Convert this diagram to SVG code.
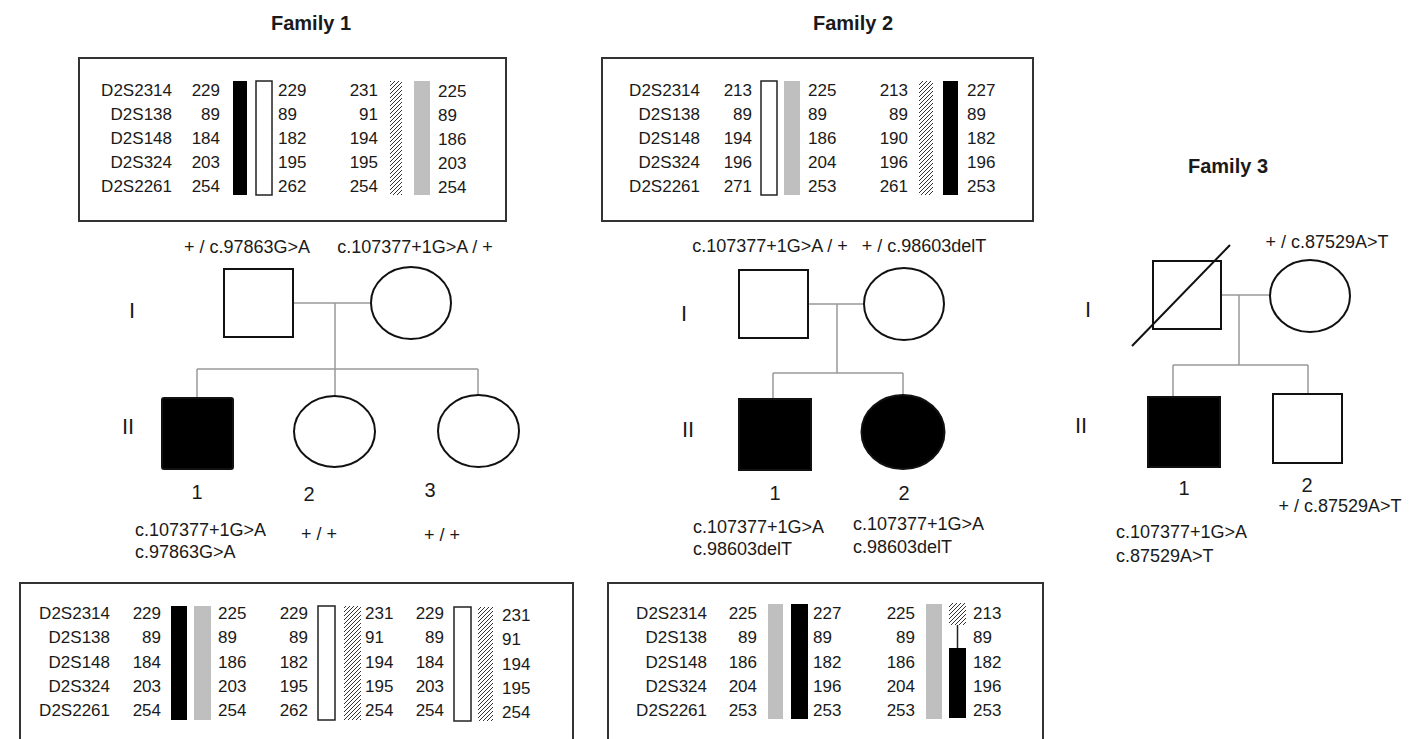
<svg xmlns="http://www.w3.org/2000/svg" width="1416" height="739" viewBox="0 0 1416 739">
<defs>
<pattern id="hatch" patternUnits="userSpaceOnUse" width="4" height="4">
<rect width="4" height="4" fill="#fff"/>
<path d="M-1,1 l2,-2 M0,4 l4,-4 M3,5 l2,-2" stroke="#333" stroke-width="1"/>
</pattern>
<style>
text{font-family:"Liberation Sans",Arial,sans-serif;fill:#1a1a1a}
.h{font-size:20px;font-weight:bold;text-anchor:middle}
.t{font-size:17px}
.r{text-anchor:end}
.m{text-anchor:middle}
.p{font-size:18px}
.g{font-size:22px;text-anchor:middle}
.n{font-size:20px;text-anchor:middle}
.box{fill:none;stroke:#333;stroke-width:2}
.bk{fill:#000}
.wh{fill:#fff;stroke:#222;stroke-width:1.5}
.gy{fill:#bfbfbf}
.ht{fill:url(#hatch)}
.ind{fill:#fff;stroke:#111;stroke-width:2}
.aff{fill:#000;stroke:#111;stroke-width:2}
.con{fill:none;stroke:#999;stroke-width:1.5}
</style>
</defs>
<rect width="1416" height="739" fill="#fff"/>

<g id="titles">
<text class="h" x="311" y="30">Family 1</text>
<text class="h" x="853" y="30">Family 2</text>
<text class="h" x="1228" y="173">Family 3</text>
</g>

<!-- Family 1 top haplotype box -->
<g id="f1-parents-haplotypes">
<rect class="box" x="79" y="58" width="427" height="163"/>
<g class="t r">
<text x="172" y="96">D2S2314</text><text x="172" y="120">D2S138</text><text x="172" y="144">D2S148</text><text x="172" y="168">D2S324</text><text x="172" y="192">D2S2261</text>
<text x="220" y="96">229</text><text x="220" y="120">89</text><text x="220" y="144">184</text><text x="220" y="168">203</text><text x="220" y="192">254</text>
<text x="378" y="96">231</text><text x="378" y="120">91</text><text x="378" y="144">194</text><text x="378" y="168">195</text><text x="378" y="192">254</text>
</g>
<g class="t">
<text x="278" y="96">229</text><text x="278" y="120">89</text><text x="278" y="144">182</text><text x="278" y="168">195</text><text x="278" y="192">262</text>
<text x="438" y="97">225</text><text x="438" y="121">89</text><text x="438" y="145">186</text><text x="438" y="169">203</text><text x="438" y="193">254</text>
</g>
<rect class="bk" x="233" y="81" width="14" height="114"/>
<rect class="wh" x="256" y="81" width="16" height="114"/>
<rect class="ht" x="390" y="81" width="12" height="114"/>
<rect class="gy" x="414" y="81" width="16" height="114"/>
</g>

<!-- Family 2 top haplotype box -->
<g id="f2-parents-haplotypes">
<rect class="box" x="602" y="58" width="431" height="163"/>
<g class="t r">
<text x="700" y="96">D2S2314</text><text x="700" y="120">D2S138</text><text x="700" y="144">D2S148</text><text x="700" y="168">D2S324</text><text x="700" y="192">D2S2261</text>
<text x="752" y="96">213</text><text x="752" y="120">89</text><text x="752" y="144">194</text><text x="752" y="168">196</text><text x="752" y="192">271</text>
<text x="908" y="96">213</text><text x="908" y="120">89</text><text x="908" y="144">190</text><text x="908" y="168">196</text><text x="908" y="192">261</text>
</g>
<g class="t">
<text x="808" y="96">225</text><text x="808" y="120">89</text><text x="808" y="144">186</text><text x="808" y="168">204</text><text x="808" y="192">253</text>
<text x="967" y="96">227</text><text x="967" y="120">89</text><text x="967" y="144">182</text><text x="967" y="168">196</text><text x="967" y="192">253</text>
</g>
<rect class="wh" x="761" y="81" width="16" height="114"/>
<rect class="gy" x="784" y="81" width="16" height="114"/>
<rect class="ht" x="919" y="81" width="14" height="114"/>
<rect class="bk" x="943" y="81" width="15" height="114"/>
</g>

<!-- Family 1 bottom haplotype box -->
<g id="f1-children-haplotypes">
<rect class="box" x="20" y="583" width="553" height="170"/>
<g class="t r">
<text x="110" y="619">D2S2314</text><text x="110" y="643">D2S138</text><text x="110" y="668">D2S148</text><text x="110" y="692">D2S324</text><text x="110" y="716">D2S2261</text>
<text x="161" y="619">229</text><text x="161" y="643">89</text><text x="161" y="668">184</text><text x="161" y="692">203</text><text x="161" y="716">254</text>
<text x="308" y="619">229</text><text x="308" y="643">89</text><text x="308" y="668">182</text><text x="308" y="692">195</text><text x="308" y="716">262</text>
<text x="444" y="619">229</text><text x="444" y="643">89</text><text x="444" y="668">184</text><text x="444" y="692">203</text><text x="444" y="716">254</text>
</g>
<g class="t">
<text x="218" y="619">225</text><text x="218" y="643">89</text><text x="218" y="668">186</text><text x="218" y="692">203</text><text x="218" y="716">254</text>
<text x="365" y="619">231</text><text x="365" y="643">91</text><text x="365" y="668">194</text><text x="365" y="692">195</text><text x="365" y="716">254</text>
<text x="502" y="621">231</text><text x="502" y="645">91</text><text x="502" y="670">194</text><text x="502" y="694">195</text><text x="502" y="718">254</text>
</g>
<rect class="bk" x="171" y="606" width="16" height="114"/>
<rect class="gy" x="194" y="606" width="17" height="114"/>
<rect class="wh" x="318" y="606" width="17" height="114"/>
<rect class="ht" x="344" y="606" width="17" height="114"/>
<rect class="wh" x="454" y="607" width="17" height="114"/>
<rect class="ht" x="478" y="607" width="15" height="114"/>
</g>

<!-- Family 2 bottom haplotype box -->
<g id="f2-children-haplotypes">
<rect class="box" x="608" y="583" width="435" height="170"/>
<g class="t r">
<text x="707" y="619">D2S2314</text><text x="707" y="643">D2S138</text><text x="707" y="668">D2S148</text><text x="707" y="692">D2S324</text><text x="707" y="716">D2S2261</text>
<text x="757" y="619">225</text><text x="757" y="643">89</text><text x="757" y="668">186</text><text x="757" y="692">204</text><text x="757" y="716">253</text>
<text x="915" y="619">225</text><text x="915" y="643">89</text><text x="915" y="668">186</text><text x="915" y="692">204</text><text x="915" y="716">253</text>
</g>
<g class="t">
<text x="813" y="619">227</text><text x="813" y="643">89</text><text x="813" y="668">182</text><text x="813" y="692">196</text><text x="813" y="716">253</text>
<text x="973" y="619">213</text><text x="973" y="643">89</text><text x="973" y="668">182</text><text x="973" y="692">196</text><text x="973" y="716">253</text>
</g>
<rect class="gy" x="768" y="604" width="15" height="115"/>
<rect class="bk" x="791" y="604" width="17" height="115"/>
<rect class="gy" x="926" y="604" width="16" height="115"/>
<rect class="ht" x="949" y="603" width="17" height="22"/>
<line x1="957.5" y1="625" x2="957.5" y2="648" stroke="#222" stroke-width="1.5"/>
<rect class="bk" x="949" y="648" width="17" height="70"/>
</g>

<!-- Connectors -->
<g id="connectors" class="con">
<path d="M293,303 H371 M335,303 V396 M197,369 H478 M197,369 V398 M478,369 V395"/>
<path d="M808,304 H864 M837,304 V373 M773,373 H903 M773,373 V399 M903,373 V395"/>
<path d="M1221,295 H1270 M1239,295 V365 M1173,365 H1308 M1173,365 V397 M1308,365 V394"/>
</g>

<!-- Generation labels -->
<g id="generation-labels">
<text class="g" x="132" y="318">I</text>
<text class="g" x="128" y="434">II</text>
<text class="g" x="684" y="321">I</text>
<text class="g" x="688" y="437">II</text>
<text class="g" x="1088" y="317">I</text>
<text class="g" x="1081" y="433">II</text>
</g>

<!-- Family 1 individuals -->
<g id="f1-I-1">
<rect class="ind" x="224" y="269" width="69" height="68"/>
<text class="p m" x="247" y="253">+ / c.97863G&gt;A</text>
</g>
<g id="f1-I-2">
<ellipse class="ind" cx="411" cy="303" rx="40" ry="36"/>
<text class="p m" x="415" y="253">c.107377+1G&gt;A / +</text>
</g>
<g id="f1-II-1">
<rect class="aff" x="162" y="398" width="71" height="71" rx="2"/>
<text class="n" x="197" y="499">1</text>
<text class="p" x="135" y="536">c.107377+1G&gt;A</text>
<text class="p" x="135" y="558">c.97863G&gt;A</text>
</g>
<g id="f1-II-2">
<ellipse class="ind" cx="334.5" cy="431.5" rx="40.5" ry="35.5"/>
<text class="n" x="309" y="501">2</text>
<text class="p m" x="319" y="540">+ / +</text>
</g>
<g id="f1-II-3">
<ellipse class="ind" cx="478.5" cy="431" rx="40.5" ry="36"/>
<text class="n" x="430" y="497">3</text>
<text class="p m" x="442" y="541">+ / +</text>
</g>

<!-- Family 2 individuals -->
<g id="f2-I-1">
<rect class="ind" x="739" y="270" width="69" height="68"/>
<text class="p m" x="770" y="252">c.107377+1G&gt;A / +</text>
</g>
<g id="f2-I-2">
<ellipse class="ind" cx="904" cy="304" rx="40" ry="36"/>
<text class="p m" x="924" y="252">+ / c.98603delT</text>
</g>
<g id="f2-II-1">
<rect class="aff" x="739" y="399" width="72" height="71"/>
<text class="n" x="775" y="500">1</text>
<text class="p" x="693" y="533">c.107377+1G&gt;A</text>
<text class="p" x="693" y="555">c.98603delT</text>
</g>
<g id="f2-II-2">
<ellipse class="aff" cx="903" cy="432" rx="41.5" ry="37"/>
<text class="n" x="904" y="500">2</text>
<text class="p" x="853" y="530">c.107377+1G&gt;A</text>
<text class="p" x="853" y="553">c.98603delT</text>
</g>

<!-- Family 3 individuals -->
<g id="f3-I-1">
<rect class="ind" x="1153" y="261" width="68" height="68"/>
<line x1="1132" y1="346" x2="1230" y2="245" stroke="#111" stroke-width="2"/>
</g>
<g id="f3-I-2">
<ellipse class="ind" cx="1310" cy="296" rx="40" ry="36"/>
<text class="p m" x="1327" y="248">+ / c.87529A&gt;T</text>
</g>
<g id="f3-II-1">
<rect class="aff" x="1148" y="397" width="72" height="70"/>
<text class="n" x="1184" y="495">1</text>
<text class="p" x="1116" y="538">c.107377+1G&gt;A</text>
<text class="p" x="1116" y="562">c.87529A&gt;T</text>
</g>
<g id="f3-II-2">
<rect class="ind" x="1273" y="394" width="69" height="69"/>
<text class="n" x="1307" y="492">2</text>
<text class="p m" x="1340" y="512">+ / c.87529A&gt;T</text>
</g>
</svg>
